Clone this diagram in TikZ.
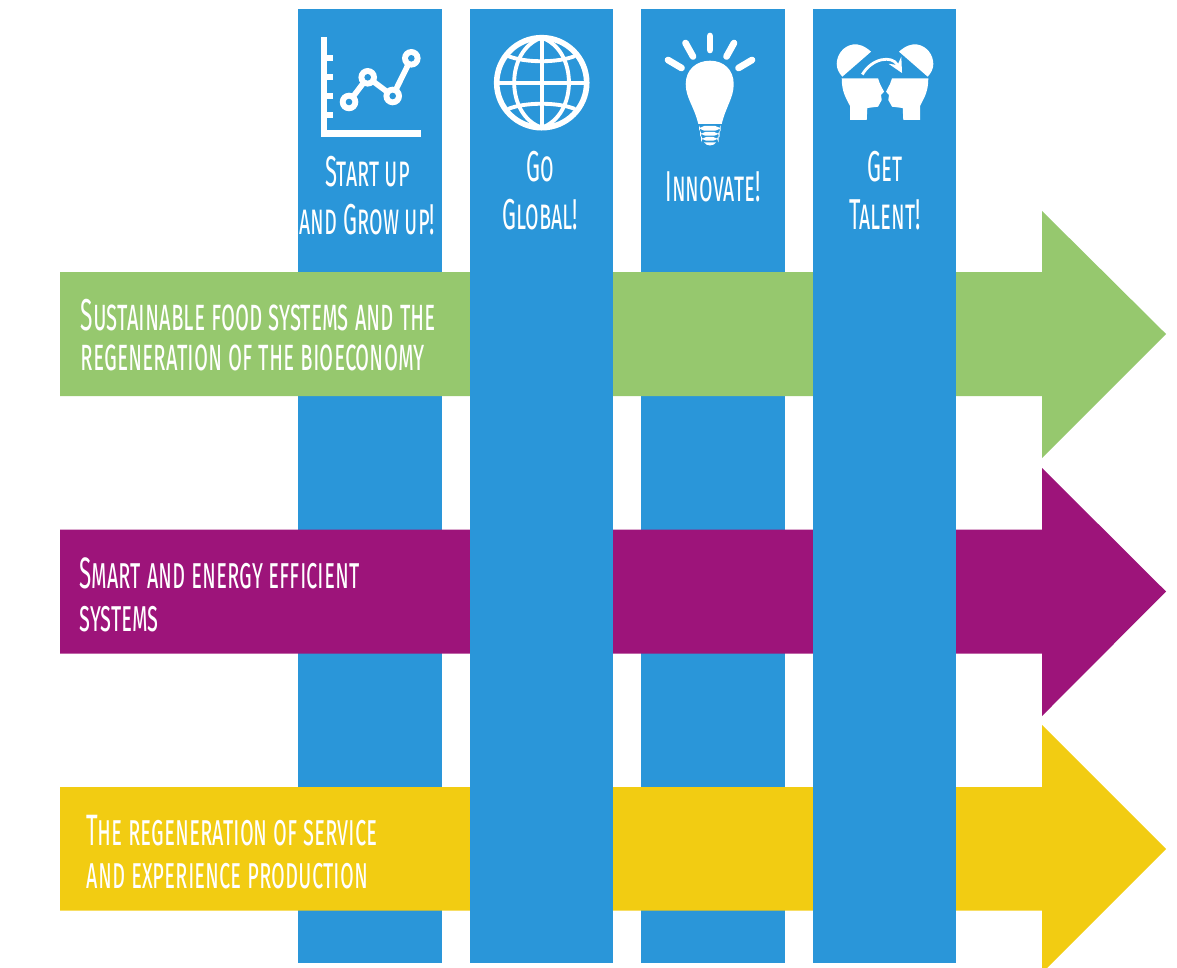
\documentclass[tikz,border=0pt]{standalone}
\usepackage{fontspec}
\newfontfamily\capsfont[FakeStretch=0.51,Letters=SmallCaps]{Fira Sans}
\definecolor{barblue}{HTML}{2A96D9}
\definecolor{leafgreen}{HTML}{96C86E}
\definecolor{plum}{HTML}{9D147A}
\definecolor{sun}{HTML}{F2CC12}
\tikzstyle{bar}=[fill=barblue]
\tikzstyle{icon}=[fill=white]
\tikzstyle{iconline}=[draw=white,line width=1.6pt]
\tikzstyle{rowlabel}=[text=white,anchor=west,align=left,inner sep=0pt,font=\capsfont\fontsize{12.5}{11.5}\selectfont]
\tikzstyle{collabel}=[text=white,align=center,inner sep=0pt,font=\capsfont\fontsize{12.3}{13.7}\selectfont]

\begin{document}
\begin{tikzpicture}[x=0.01cm,y=-0.01cm]
\useasboundingbox (0,0) rectangle (1177,967);

\fill[bar] (298,9) rectangle (441.7,963);
\fill[bar] (641,9) rectangle (785,963);

\fill[leafgreen] (60,272) -- (1042,272) -- (1042,211) -- (1166,334) -- (1042,458) -- (1042,396) -- (60,396) -- cycle;
\fill[plum] (60,529.5) -- (1042,529.5) -- (1042,468) -- (1166,591.5) -- (1042,716) -- (1042,653.5) -- (60,653.5) -- cycle;
\fill[sun] (60,787) -- (1042,787) -- (1042,725) -- (1166,849) -- (1042,973) -- (1042,910.5) -- (60,910.5) -- cycle;

\fill[bar] (470,9) rectangle (612.7,963);
\fill[bar] (813,9) rectangle (956,963);

\node[rowlabel,font=\capsfont\fontsize{12.7}{11.3}\selectfont] (food) at (80,335) {Sustainable food systems and the\\regeneration of the bioeconomy};
\node[rowlabel] (smart) at (79,595) {Smart and energy efficient\\[0.9pt]systems};
\node[rowlabel] (service) at (86,852) {The regeneration of service\\[0.9pt]and experience production};

\node[collabel] (grow) at (367.5,195.5) {Start up\\and Grow up!};
\node[collabel] (global) at (540,190.5) {Go\\Global!};
\node[collabel] (innovate) at (713,186.5) {Innovate!};
\node[collabel] (talent) at (885,190.5) {Get\\Talent!};

% chart
\fill[icon] (321,36.7) rectangle (327.3,136.7);
\fill[icon] (321,130) rectangle (421,136.7);
\fill[icon] (327,55.3) rectangle (333.3,61.3);
\fill[icon] (327,74.3) rectangle (333.3,80.3);
\fill[icon] (327,93) rectangle (333.3,99);
\fill[icon] (327,112) rectangle (333.3,118);
\draw[iconline] (349,102) -- (367.7,77.3) -- (392.7,96) -- (411.3,58.3);
\fill[icon] (349,102) circle (9.3);
\fill[icon] (367.7,77.3) circle (9.3);
\fill[icon] (392.7,96) circle (9.3);
\fill[icon] (411.3,58.3) circle (9.3);
\fill[bar] (349,102) circle (3.3);
\fill[bar] (367.7,77.3) circle (3.3);
\fill[bar] (392.7,96) circle (3.3);
\fill[bar] (411.3,58.3) circle (3.3);

% globe
\draw[iconline] (541.7,82.7) circle (45);
\draw[draw=white,line width=1.1pt] (541.7,37.7) -- (541.7,127.7);
\draw[draw=white,line width=1.1pt] (496.7,82.7) -- (586.7,82.7);
\draw[draw=white,line width=1.1pt] (541.7,37.7) .. controls (505,50) and (505,115) .. (541.7,127.7);
\draw[draw=white,line width=1.1pt] (541.7,37.7) .. controls (578,50) and (578,115) .. (541.7,127.7);
\draw[draw=white,line width=1.1pt] (508,56) .. controls (525,63) and (558,63) .. (575,56);
\draw[draw=white,line width=1.1pt] (508,109) .. controls (525,102) and (558,102) .. (575,109);

% bulb
\draw[iconline,line width=1.9pt,line cap=round] (710,36) -- (710,50);
\draw[iconline,line width=1.9pt,line cap=round] (685.5,43) -- (693,56.5);
\draw[iconline,line width=1.9pt,line cap=round] (734,43) -- (726.5,56.5);
\draw[iconline,line width=1.9pt,line cap=round] (668,60) -- (681.5,68);
\draw[iconline,line width=1.9pt,line cap=round] (752,60) -- (738.5,68);
\fill[icon] (698.3,124) .. controls (694,106) and (685.7,98) .. (685.7,84) .. controls (685.7,70) and (696,60.7) .. (710,60.7) .. controls (724,60.7) and (733.7,70) .. (733.7,84) .. controls (733.7,98) and (726,106) .. (721.7,124) -- cycle;
\fill[icon,rounded corners=1.5] (699,126) rectangle (720.5,130.7);
\fill[icon,rounded corners=1.5] (700,132) rectangle (719.5,135.7);
\fill[icon,rounded corners=1.5] (701,137) rectangle (718.5,140.7);
\fill[icon] (704,142.3) -- (716,142.3) .. controls (714,146.5) and (706,146.5) .. (704,142.3) -- cycle;

% heads
\fill[icon] (841.7,78.3) -- (878,78.3) -- (880,84) -- (884,91.7) -- (881,95) -- (881.7,100) -- (878,106.7) -- (867.3,108) -- (866.7,120) -- (850,120) -- (850,106) .. controls (846,98) and (841.7,92) .. (841.7,78.3) -- cycle;
\fill[icon] (928.3,78.3) -- (892,78.3) -- (890,84) -- (886,91.7) -- (889,95) -- (888.3,100) -- (892,106.7) -- (902.7,108) -- (903.3,120) -- (920,120) -- (920,106) .. controls (924,98) and (928.3,92) .. (928.3,78.3) -- cycle;
\fill[icon] (842.3,76.7) -- (871,51.7) .. controls (865,46) and (858,43.5) .. (853,44.5) .. controls (843,46) and (836.7,55) .. (836.7,64) .. controls (836.7,69) and (839,73) .. (842.3,76.7) -- cycle;
\fill[icon] (927.7,76.7) -- (899,51.7) .. controls (905,46) and (912,43.5) .. (917,44.5) .. controls (927,46) and (933.3,55) .. (933.3,64) .. controls (933.3,69) and (931,73) .. (927.7,76.7) -- cycle;
\draw[iconline,line width=0.8pt,-stealth] (862.3,74.5) .. controls (872,58) and (892,55) .. (902,73);

\end{tikzpicture}
\end{document}
